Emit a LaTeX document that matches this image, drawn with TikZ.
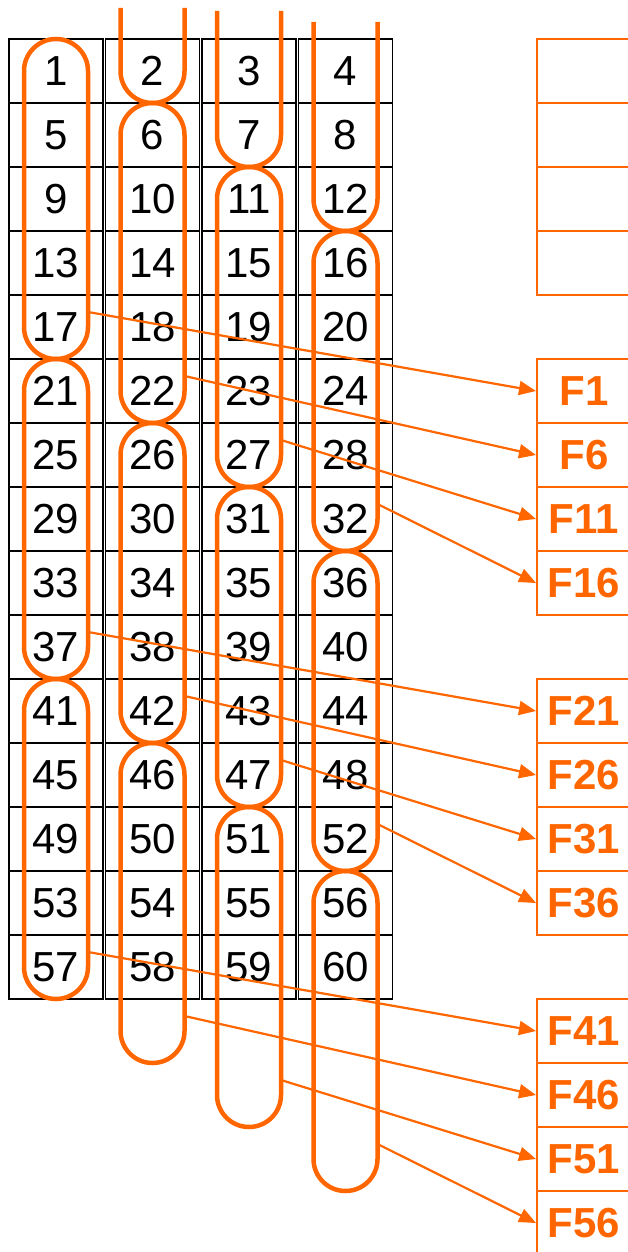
\documentclass[tikz,border=0pt]{standalone}
\usepackage{fontspec}
\setmainfont{Liberation Sans}
\usetikzlibrary{arrows.meta}
\definecolor{lineorange}{RGB}{255,102,0}
\begin{document}
\begin{tikzpicture}[x=1pt,y=-1pt,
  cell/.style={draw,line width=1.8pt,minimum width=94pt,minimum height=64pt,inner sep=0pt,font=\fontsize{42}{48}\selectfont},
  fbox/.style={draw=lineorange,line width=2pt,minimum width=94pt,minimum height=64pt,inner sep=0pt,text=lineorange,font=\fontsize{42}{48}\selectfont\bfseries},
  loop/.style={draw=lineorange,line width=4.5pt,rounded corners=32pt},
  link/.style={draw=lineorange,line width=2.2pt,-{Triangle[length=17pt,width=14pt]}}]
  \useasboundingbox (0,0) rectangle (627,1252);
  \foreach \r in {0,...,14} \foreach \c in {0,...,3} {
    \pgfmathtruncatemacro{\n}{4*\r+\c+1}
    \node[cell] (n\n) at (56+96.5*\c,71+64*\r) {\n};
  }
  \foreach \c/\t in {1/8,2/11,3/22}
    \draw[loop] (24+96.5*\c,\t) -- (24+96.5*\c,39+64*\c) -- (88+96.5*\c,39+64*\c) -- (88+96.5*\c,\t);
  \foreach \c in {0,...,3} \foreach \k in {1,2,3} {
    \draw[loop] (24+96.5*\c,64*\c+320*\k-281) rectangle (88+96.5*\c,39+64*\c+320*\k);
    \pgfmathtruncatemacro{\f}{20*(\k-1)+5*\c+1}
    \coordinate (s\f) at (88+96.5*\c,64*\c+320*\k-8);
    \node[fbox] (f\f) at (584,71+64*\c+320*\k) {F\f};
  }
  \foreach \r in {0,...,3} \node[fbox] (e\r) at (584,71+64*\r) {};
  \foreach \f in {1,6,11,16,21,26,31,36,41,46,51,56} \draw[link] (s\f) -- (f\f.west);
\end{tikzpicture}
\end{document}
